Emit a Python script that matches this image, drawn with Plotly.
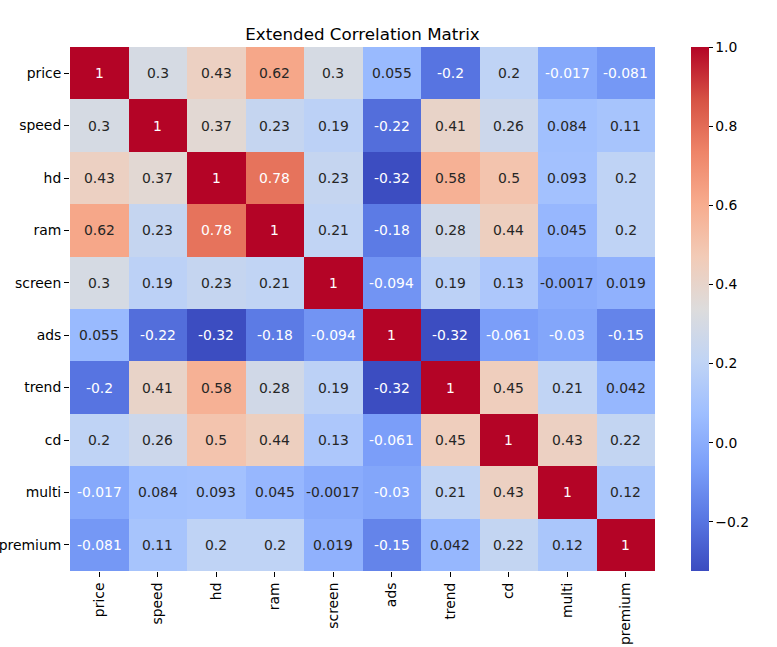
import plotly.graph_objects as go

labels = ["price", "speed", "hd", "ram", "screen", "ads", "trend", "cd", "multi", "premium"]

row_price   = [1, 0.3, 0.43, 0.62, 0.3, 0.055, -0.2, 0.2, -0.017, -0.081]
row_speed   = [0.3, 1, 0.37, 0.23, 0.19, -0.22, 0.41, 0.26, 0.084, 0.11]
row_hd      = [0.43, 0.37, 1, 0.78, 0.23, -0.32, 0.58, 0.5, 0.093, 0.2]
row_ram     = [0.62, 0.23, 0.78, 1, 0.21, -0.18, 0.28, 0.44, 0.045, 0.2]
row_screen  = [0.3, 0.19, 0.23, 0.21, 1, -0.094, 0.19, 0.13, -0.0017, 0.019]
row_ads     = [0.055, -0.22, -0.32, -0.18, -0.094, 1, -0.32, -0.061, -0.03, -0.15]
row_trend   = [-0.2, 0.41, 0.58, 0.28, 0.19, -0.32, 1, 0.45, 0.21, 0.042]
row_cd      = [0.2, 0.26, 0.5, 0.44, 0.13, -0.061, 0.45, 1, 0.43, 0.22]
row_multi   = [-0.017, 0.084, 0.093, 0.045, -0.0017, -0.03, 0.21, 0.43, 1, 0.12]
row_premium = [-0.081, 0.11, 0.2, 0.2, 0.019, -0.15, 0.042, 0.22, 0.12, 1]

z = [row_price, row_speed, row_hd, row_ram, row_screen, row_ads,
     row_trend, row_cd, row_multi, row_premium]

zmin, zmax = -0.324, 1.0

coolwarm = ['#3b4cc0', '#5977e3', '#7b9ff9', '#9ebeff', '#c0d4f5', '#dddcdc',
            '#f2cbb7', '#f7ac8e', '#ee8468', '#d65244', '#b40426']
colorscale = [[i / 10, c] for i, c in enumerate(coolwarm)]

FONT = "DejaVu Sans"

fig = go.Figure(go.Heatmap(
    z=z, x=labels, y=labels,
    zmin=zmin, zmax=zmax,
    colorscale=colorscale,
    xgap=0, ygap=0,
    hoverinfo="skip",
    colorbar=dict(
        x=1.0615, xanchor="left", xref="paper",
        y=0.5, yanchor="middle", len=1.0, lenmode="fraction",
        thickness=18, thicknessmode="pixels",
        xpad=0, ypad=0,
        outlinewidth=0,
        ticks="outside", ticklen=4, tickwidth=1, tickcolor="black",
        tick0=0, dtick=0.2, tickformat=".1f",
        tickfont=dict(family=FONT, size=13.9, color="black"),
    ),
))

annotations = []
for i, row in enumerate(z):
    for j, v in enumerate(row):
        txt = format(v, ".2g")
        color = "white" if (v > 0.7 or v < -0.01) else "#262626"
        annotations.append(dict(
            x=labels[j], y=labels[i], xref="x", yref="y",
            text=txt, showarrow=False,
            font=dict(family=FONT, size=13.9, color=color),
        ))

fig.update_layout(
    width=777, height=647,
    margin=dict(l=70, r=122, t=47, b=76, autoexpand=False),
    paper_bgcolor="white", plot_bgcolor="white",
    font=dict(family=FONT, color="black"),
    title=dict(
        text="Extended Correlation Matrix",
        x=0.5, xref="paper", xanchor="center",
        y=1, yref="paper", yanchor="bottom",
        pad=dict(b=7),
        font=dict(family=FONT, size=16.7, color="black"),
    ),
    annotations=annotations,
    xaxis=dict(
        showgrid=False, zeroline=False, showline=False, automargin=False,
        ticks="outside", ticklen=5, tickwidth=1, tickcolor="black",
        tickangle=-90,
        tickfont=dict(family=FONT, size=13.9, color="black"),
    ),
    yaxis=dict(
        showgrid=False, zeroline=False, showline=False, automargin=False,
        autorange="reversed",
        ticks="outside", ticklen=5, tickwidth=1, tickcolor="black",
        tickfont=dict(family=FONT, size=13.9, color="black"),
    ),
)

fig.write_html("out.html")
